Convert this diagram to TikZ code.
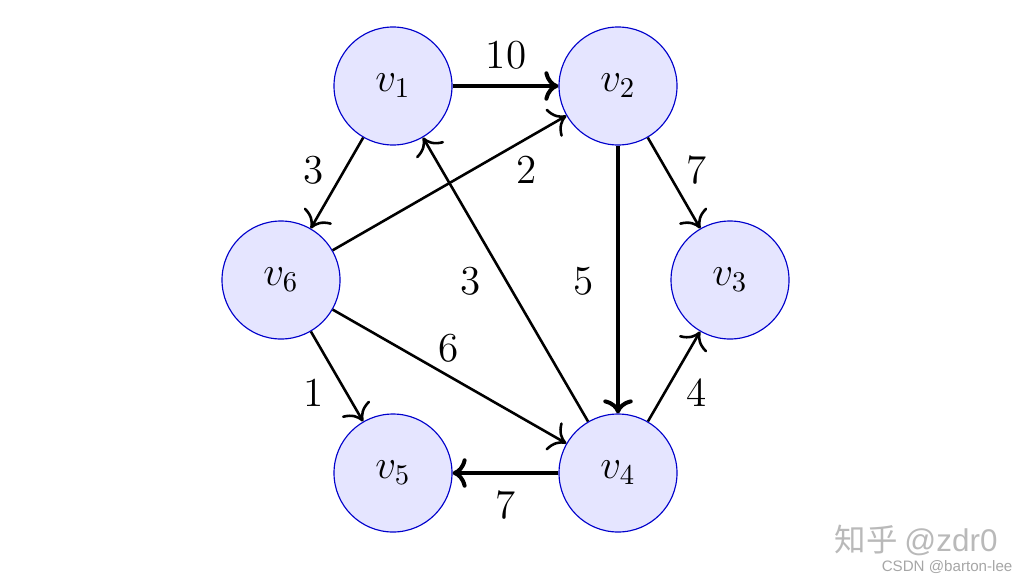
\documentclass[tikz,border=0pt]{standalone}
\usepackage{fontspec}
\usetikzlibrary{arrows.meta}
\newfontfamily\cjk{Noto Sans CJK SC}
\newfontfamily\wsans{Liberation Sans}
\begin{document}
\begin{tikzpicture}[x=0.35pt,y=-0.35pt,
  vert/.style={circle,draw=blue!80!black,fill=blue!10,minimum size=118*0.35pt,inner sep=0pt,font=\Large},
  edge/.style={-{To[scale=1.5]},line width=0.9pt},
  tedge/.style={-{To[scale=1.05]},line width=1.4pt},
  wlab/.style={font=\Large,inner sep=0pt}]
\useasboundingbox (0,0) rectangle (1027,584);
\node[vert] (v1) at (393,86) {$v_1$};
\node[vert] (v2) at (618,86) {$v_2$};
\node[vert] (v3) at (730,280) {$v_3$};
\node[vert] (v4) at (618,473) {$v_4$};
\node[vert] (v5) at (393,473) {$v_5$};
\node[vert] (v6) at (281,280) {$v_6$};
\draw[tedge] (v1) -- (v2);
\draw[edge] (v1) -- (v6);
\draw[edge] (v6) -- (v2);
\draw[edge] (v2) -- (v3);
\draw[tedge] (v2) -- (v4);
\draw[edge] (v4) -- (v1);
\draw[edge] (v6) -- (v4);
\draw[edge] (v6) -- (v5);
\draw[edge] (v4) -- (v3);
\draw[tedge] (v4) -- (v5);
\node[wlab] (l12) at (506,55) {10};
\node[wlab] (l16) at (314,170) {3};
\node[wlab] (l62) at (527,170) {2};
\node[wlab] (l23) at (697,170) {7};
\node[wlab] (l41) at (471,281) {3};
\node[wlab] (l24) at (584,281) {5};
\node[wlab] (l64) at (449,348) {6};
\node[wlab] (l65) at (314,393) {1};
\node[wlab] (l43) at (697,393) {4};
\node[wlab] (l45) at (506,505) {7};
\node[text=gray!55,inner sep=0pt,anchor=base west] (wm1) at (834,551) {\fontsize{11}{11}\selectfont\cjk 知乎 \wsans @zdr0};
\node[text=gray!70,inner sep=0pt,anchor=base east] (wm2) at (1013,571) {\fontsize{5.3}{6}\selectfont\wsans CSDN @barton-lee};
\end{tikzpicture}
\end{document}
